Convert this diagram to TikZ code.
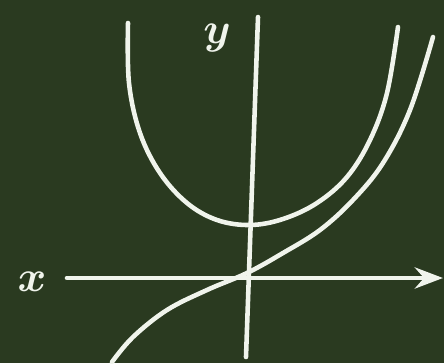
\documentclass[tikz,border=0pt]{standalone}
\usepackage{amsmath}
\usetikzlibrary{arrows.meta,positioning}
\definecolor{board}{RGB}{42,58,32}
\definecolor{chalk}{RGB}{240,244,236}

\begin{document}
\begin{tikzpicture}[
    x = 0.02cm, %
    y = -0.02cm, %
    line cap = round,
    line join = round
    ]

    \tikzset{chalkline/.style={
    draw = chalk,
    line width = 2.6pt
    },
    chalklabel/.style={
    text = chalk,
    font = \fontsize{30}{30}\selectfont
    }}

    \fill[board] (0,0) rectangle (444,363);
    \useasboundingbox (0,0) rectangle (444,363);

    \coordinate (xs) at (67,278);
    \coordinate (xe) at (443,278);
    \coordinate (ys) at (246,357);
    \coordinate (ye) at (258,17);

    \node[chalklabel] (xl) at (32,282) {$\boldsymbol{x}$};
    \node[chalklabel] (yl) at (217,38) {$\boldsymbol{y}$};

    \draw[chalkline, -{Stealth[length=16pt,width=12pt]}] (xs) -- (xe);
    \draw[chalkline] (ys) -- (ye);

    % U-shaped curve
    \draw[chalkline] plot[smooth, tension=0.6] coordinates {
      (128,23) (129,83) (140,133) (160,173) (187,203) (217,220)
      (250,225) (283,219) (317,203) (347,177) (370,140) (387,93) (398,27)};

    % S-shaped curve through the origin
    \draw[chalkline] plot[smooth, tension=0.6] coordinates {
      (112,362) (133,337) (167,310) (207,290) (247,273) (283,253)
      (320,230) (353,200) (383,163) (410,110) (433,37)};

\end{tikzpicture}
\end{document}
